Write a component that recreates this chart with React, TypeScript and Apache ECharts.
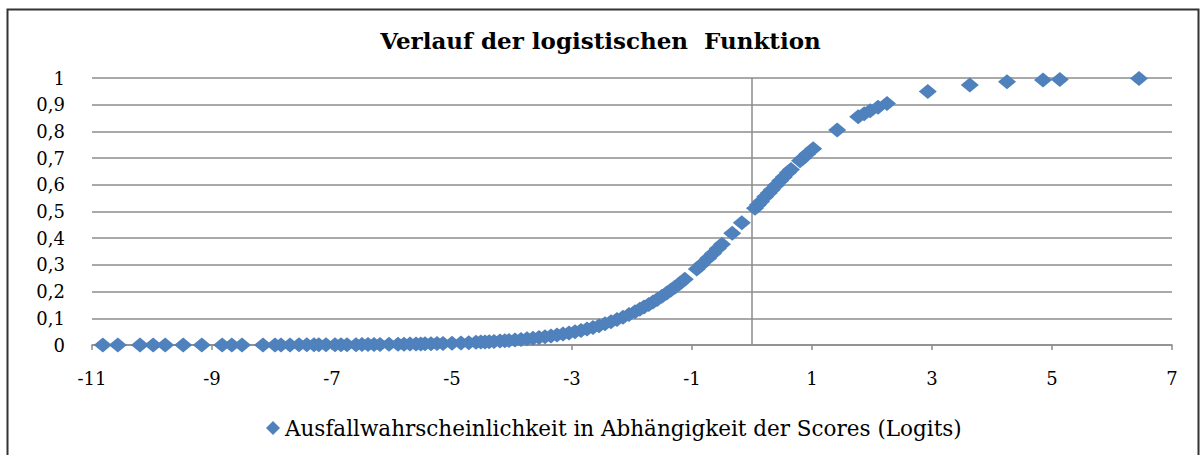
import React, { useEffect, useRef } from "react";
import * as echarts from "echarts";

const titleText = "Verlauf der logistischen  Funktion";
const seriesName = "Ausfallwahrscheinlichkeit in Abhängigkeit der Scores (Logits)";

const scores: number[] = [
  -10.82, -10.57, -10.2, -9.98, -9.78, -9.48, -9.17, -8.83, -8.67, -8.5,
  -8.15, -7.95, -7.85, -7.7, -7.55, -7.42, -7.3, -7.22, -7.1, -6.95,
  -6.85, -6.75, -6.6, -6.5, -6.4, -6.3, -6.2, -6.05, -5.9, -5.8,
  -5.7, -5.6, -5.52, -5.45, -5.35, -5.25, -5.15, -5.0, -4.85, -4.72,
  -4.6, -4.52, -4.45, -4.38, -4.3, -4.2, -4.12, -4.05, -3.95, -3.85,
  -3.75, -3.65, -3.55, -3.45, -3.35, -3.25, -3.15, -3.05, -2.95, -2.85,
  -2.75, -2.65, -2.55, -2.45, -2.35, -2.25, -2.15, -2.05, -1.95, -1.87,
  -1.8, -1.72, -1.65, -1.58, -1.5, -1.42, -1.35, -1.28, -1.2, -1.12,
  -0.92, -0.85, -0.73, -0.65, -0.57, -0.5, -0.33, -0.17, 0.05, 0.1,
  0.15, 0.22, 0.28, 0.33, 0.4, 0.47, 0.53, 0.6, 0.65, 0.8,
  0.85, 0.92, 1.02, 1.42, 1.77, 1.87, 1.97, 2.1, 2.25, 2.93,
  3.63, 4.25, 4.85, 5.13, 6.45,
];

const probabilities: number[] = [
  0.00002, 0.00003, 0.00004, 0.00005, 0.00006, 0.00008, 0.0001, 0.00015, 0.00017, 0.0002,
  0.0003, 0.00035, 0.0004, 0.00045, 0.0005, 0.0006, 0.0007, 0.0007, 0.0008, 0.001,
  0.0011, 0.0012, 0.0014, 0.0015, 0.0017, 0.0018, 0.002, 0.0024, 0.0027, 0.003,
  0.0033, 0.0037, 0.004, 0.0043, 0.0047, 0.0052, 0.0058, 0.0067, 0.0078, 0.0088,
  0.0099, 0.0108, 0.0115, 0.0124, 0.0134, 0.0148, 0.016, 0.0171, 0.0189, 0.0208,
  0.023, 0.0253, 0.0279, 0.0308, 0.034, 0.0373, 0.0411, 0.0452, 0.0497, 0.0547,
  0.0601, 0.066, 0.0724, 0.0794, 0.087, 0.0953, 0.1043, 0.1141, 0.1246, 0.1335,
  0.1419, 0.1519, 0.161, 0.1708, 0.1824, 0.1947, 0.2059, 0.2176, 0.2315, 0.246,
  0.285, 0.2994, 0.3252, 0.343, 0.3612, 0.3775, 0.4182, 0.4576, 0.5125, 0.525,
  0.5374, 0.5548, 0.5695, 0.5818, 0.5987, 0.6154, 0.6295, 0.6457, 0.657, 0.69,
  0.7006, 0.715, 0.735, 0.8053, 0.8545, 0.8665, 0.8776, 0.8909, 0.9047, 0.9493,
  0.9742, 0.9859, 0.9922, 0.9941, 0.9984,
];

const xMin = -11;
const xMax = 7;
const xStep = 2;
const yMin = 0;
const yMax = 1;
const yStep = 0.1;

const FONT = "DejaVu Serif";
const BLUE = "#4F81BD";

export default function App() {
  const ref = useRef<HTMLDivElement>(null);

  useEffect(() => {
    if (!ref.current) return;
    const chart = echarts.init(ref.current, null, { renderer: "svg" });
    const data = scores.map((s, i) => [s, probabilities[i]]);
    chart.setOption({
      animation: false,
      backgroundColor: "#ffffff",
      title: {
        text: titleText,
        left: "center",
        top: 24,
        textStyle: {
          fontFamily: FONT,
          fontWeight: "bold",
          fontSize: 23,
          color: "#000",
        },
      },
      legend: {
        bottom: 11,
        left: 261,
        icon: "diamond",
        itemWidth: 14,
        itemHeight: 14,
        itemGap: 4,
        textStyle: { fontFamily: FONT, fontSize: 21.5, color: "#000" },
        data: [seriesName],
      },
      graphic: [
        {
          type: "rect",
          left: 5,
          top: 7,
          shape: { width: 1191, height: 470 },
          style: { fill: "none", stroke: "#333", lineWidth: 2 },
          silent: true,
        },
      ],
      grid: { left: 92, right: 29, top: 78, bottom: 110, containLabel: false },
      xAxis: {
        type: "value",
        min: xMin,
        max: xMax,
        interval: xStep,
        axisLine: { show: true, onZero: false, lineStyle: { color: "#8c8c8c", width: 1.5 } },
        axisTick: { show: true, length: 5, lineStyle: { color: "#8c8c8c", width: 1.5 } },
        splitLine: { show: false },
        axisLabel: {
          margin: 24,
          fontFamily: FONT,
          fontSize: 18,
          color: "#000",
          formatter: (v: number) => String(v),
        },
      },
      yAxis: {
        type: "value",
        min: yMin,
        max: yMax,
        interval: yStep,
        axisLine: { show: false },
        axisTick: { show: false },
        splitLine: { show: true, lineStyle: { color: "#8c8c8c", width: 1.5 } },
        axisLabel: {
          margin: 27,
          fontFamily: FONT,
          fontSize: 18,
          color: "#000",
          formatter: (v: number) => String(Math.round(v * 10) / 10).replace(".", ","),
        },
      },
      series: [
        {
          name: seriesName,
          type: "scatter",
          data,
          symbol: "diamond",
          symbolSize: [18, 15],
          itemStyle: { color: BLUE, opacity: 1 },
          markLine: {
            silent: true,
            symbol: ["none", "none"],
            label: { show: false },
            lineStyle: { color: "#8c8c8c", width: 1.5, type: "solid" },
            data: [{ xAxis: 0 }],
            z: 0,
          },
        },
      ],
    });
    return () => chart.dispose();
  }, []);

  return (
    <div
      ref={ref}
      style={{ position: "fixed", left: 0, top: 0, width: 1201, height: 455 }}
    />
  );
}
